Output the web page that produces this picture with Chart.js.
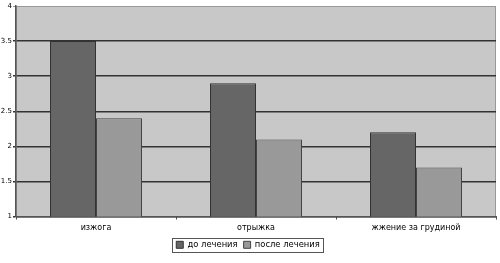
<!DOCTYPE html>
<html><head><meta charset="utf-8">
<script src="https://cdn.jsdelivr.net/npm/chart.js@4"></script>
<style>html,body{margin:0;padding:0;background:#fff}#wrap{width:500px;height:263px}</style>
</head><body><div id="wrap"><canvas id="c" width="500" height="263"></canvas></div>
<script>
const categories = ["изжога", "отрыжка", "жжение за грудиной"];
const beforeValues = [3.5, 2.9, 2.2];
const afterValues = [2.4, 2.1, 1.7];
const seriesNames = ["до лечения", "после лечения"];
const yTicks = [1, 1.5, 2, 2.5, 3, 3.5, 4];

const bgPlugin = {
  id: 'bg',
  beforeDraw(chart) {
    const {ctx, chartArea: a} = chart;
    ctx.save();
    ctx.fillStyle = '#c8c8c8';
    ctx.fillRect(a.left, a.top, a.right - a.left, a.bottom - a.top);
    ctx.strokeStyle = '#999999';
    ctx.lineWidth = 1;
    ctx.strokeRect(a.left + 0.5, a.top + 0.5, a.right - a.left - 1, a.bottom - a.top);
    ctx.restore();
  },
  afterDraw(chart) {
    const hb = chart.legend.legendHitBoxes;
    if (!hb || !hb.length) return;
    const ctx = chart.ctx;
    let l = Infinity, r = -Infinity, t = Infinity, b = -Infinity;
    hb.forEach(h => { l = Math.min(l, h.left); r = Math.max(r, h.left + h.width); t = Math.min(t, h.top); b = Math.max(b, h.top + h.height); });
    ctx.save();
    ctx.strokeStyle = '#555';
    ctx.lineWidth = 1;
    const x = Math.round(l - 4) + 0.5, y = Math.round(t - 3) + 0.5;
    ctx.strokeRect(x, y, Math.round(r - l + 8), Math.round(b - t + 6));
    ctx.restore();
  }
};

new Chart(document.getElementById('c'), {
  type: 'bar',
  data: {
    labels: categories,
    datasets: [
      {label: seriesNames[0], data: beforeValues, backgroundColor: '#666666', borderColor: '#333333', borderWidth: 1},
      {label: seriesNames[1], data: afterValues, backgroundColor: '#999999', borderColor: '#444444', borderWidth: 1}
    ]
  },
  options: {
    responsive: false,
    animation: false,
    devicePixelRatio: 1,
    layout: {padding: {left: 0, right: 4, top: 6, bottom: 4}},
    datasets: {bar: {categoryPercentage: 0.575, barPercentage: 1}},
    plugins: {
      tooltip: {enabled: false},
      legend: {
        position: 'bottom',
        labels: {
          boxWidth: 7, boxHeight: 7, padding: 6,
          font: {family: 'DejaVu Sans', size: 8.4},
          color: '#000'
        }
      }
    },
    scales: {
      x: {
        grid: {display: true, drawOnChartArea: false, color: '#555', tickLength: 3},
        border: {color: '#555', width: 1},
        ticks: {font: {family: 'DejaVu Sans', size: 8}, color: '#000', padding: 4, maxRotation: 0},
        afterFit(s) { s.height = 18; }
      },
      y: {
        min: 1, max: 4,
        afterBuildTicks(s) { s.ticks = yTicks.map(v => ({value: v})); },
        grid: {
          color: ctx => ctx.tick && ctx.tick.value === 4 ? '#999999' : '#333333',
          lineWidth: ctx => ctx.tick && ctx.tick.value === 4 ? 1 : 1.5,
          tickLength: 3
        },
        border: {color: '#555', width: 1.5},
        ticks: {font: {family: 'DejaVu Sans', size: 7}, color: '#000', padding: 1,
          callback: v => String(v)},
        afterFit(s) { s.width = 16; }
      }
    }
  },
  plugins: [bgPlugin]
});
</script></body></html>
